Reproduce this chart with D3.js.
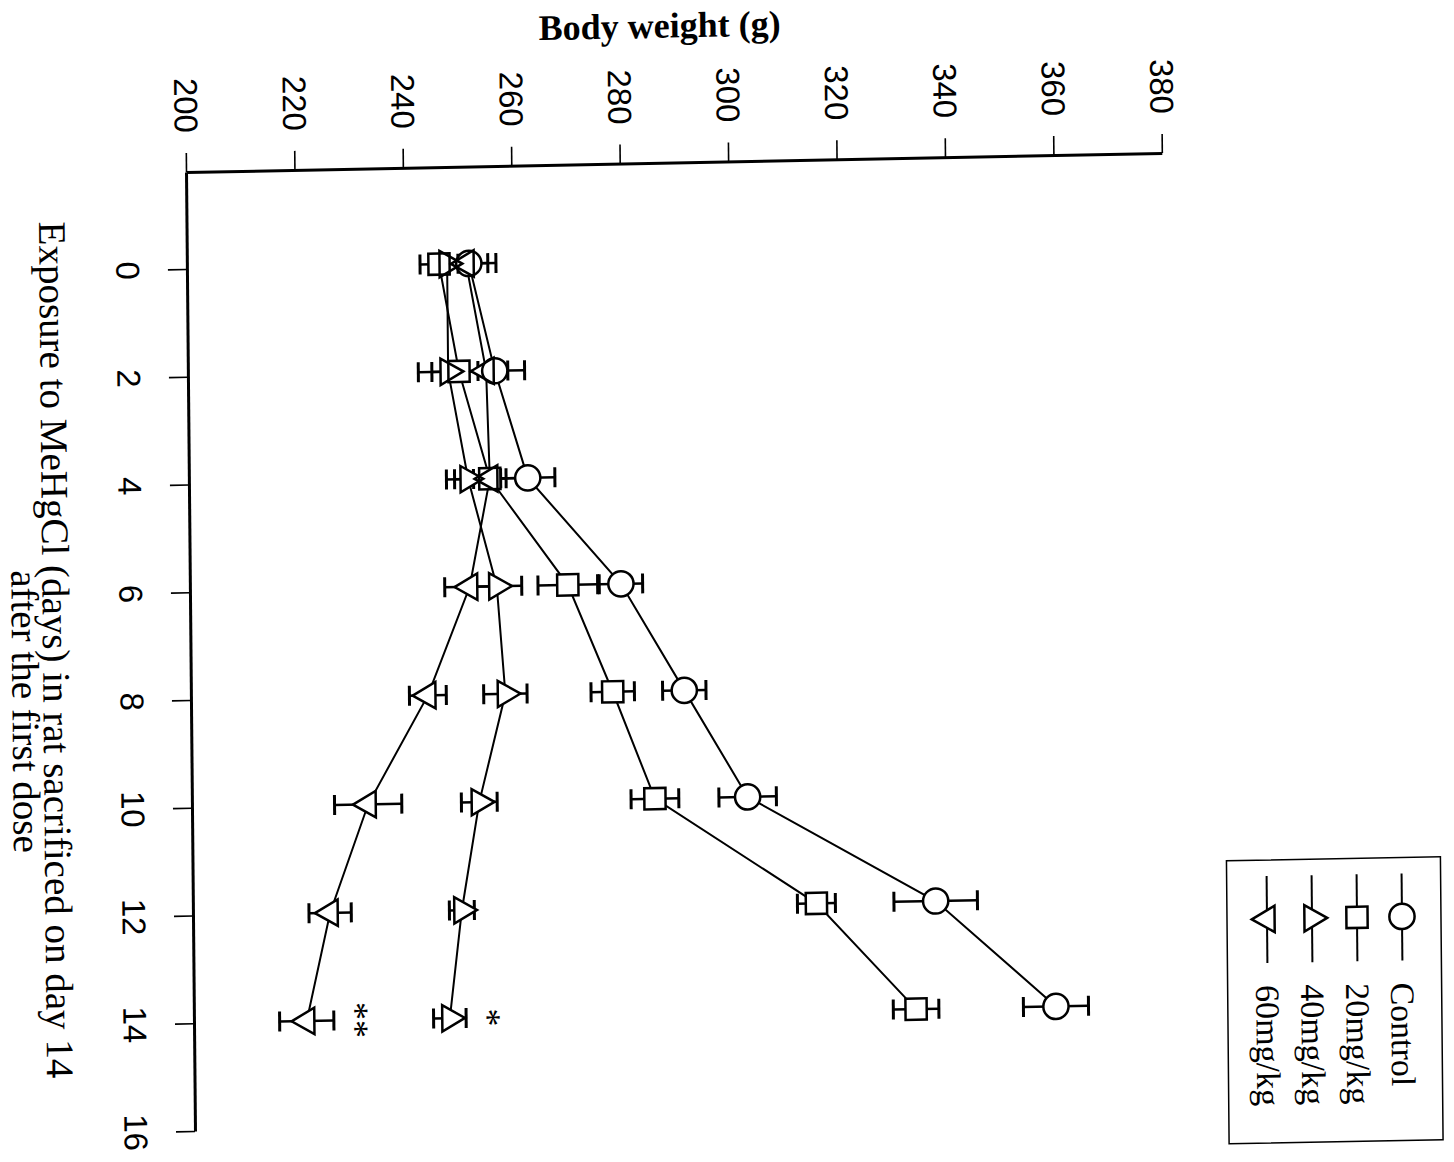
<!DOCTYPE html>
<html>
<head>
<meta charset="utf-8">
<script src="https://cdn.jsdelivr.net/npm/d3@7"></script>
<style>body{margin:0;background:#fff}</style>
</head>
<body>
<svg id="chart" width="1454" height="1162"></svg>
<script>
// days after first dose
const days = [0, 2, 4, 6, 8, 10, 12, 14];
const seriesNames = ["Control", "20mg/kg", "40mg/kg", "60mg/kg"];
const weightTicks = [200, 220, 240, 260, 280, 300, 320, 340, 360, 380];
const dayTicks = [0, 2, 4, 6, 8, 10, 12, 14, 16];

// body weight (g), mean and SE
const controlMean = [252, 256.6, 262.5, 279.5, 291, 302.5, 337, 359];
const controlErr  = [5, 5.5, 5, 4, 4, 5.3, 7.7, 6];
const mg20Mean = [246.5, 250, 255.5, 269.7, 277.8, 285.4, 315, 333.2];
const mg20Err  = [3.5, 5, 6.5, 5.5, 4, 4.4, 3.5, 4.2];
const mg40Mean = [248, 248, 251.5, 256.6, 258, 253, 249.6, 247.2];
const mg40Err  = [2.6, 5.5, 4, 4.6, 4, 3.3, 2.3, 3];
const mg60Mean = [251.5, 255, 255.5, 251.6, 243.7, 232.5, 225.3, 220.8];
const mg60Err  = [4, 4, 3, 4.6, 3.4, 6.2, 3.9, 5];
const sigMarks = ["", "", "*", "**"];

const svg = d3.select("#chart");
svg.append("rect").attr("width", 1454).attr("height", 1162).attr("fill", "#fff");

// the whole figure is turned a quarter turn and the scan is a bit skewed
const frame = svg.append("g")
    .attr("transform", "matrix(0.99981,-0.01947,0.00938,0.99996,186,172)");

const w = d3.scaleLinear().domain([200, 380]).range([0, 976]);
const d = d3.scaleLinear().domain([-1.8, 16]).range([0, 959]);

// weight axis (top)
const topAxis = frame.append("g")
    .call(d3.axisTop(w).tickValues(weightTicks).tickSize(19).tickSizeOuter(0));
topAxis.attr("font-family", "'Liberation Sans', Arial, sans-serif").attr("font-size", 33);
topAxis.select(".domain").attr("stroke-width", 3);
topAxis.selectAll(".tick line").attr("stroke-width", 1.6);
topAxis.selectAll(".tick text")
    .attr("x", 0).attr("y", 0).attr("dy", null)
    .attr("transform", "translate(0,-39) rotate(90)")
    .attr("text-anchor", "end")
    .attr("dominant-baseline", "central");

// days axis (left)
const leftAxis = frame.append("g")
    .call(d3.axisLeft(d).tickValues(dayTicks).tickSize(19).tickSizeOuter(0));
leftAxis.attr("font-family", "'Liberation Sans', Arial, sans-serif").attr("font-size", 33);
leftAxis.select(".domain").attr("stroke-width", 3);
leftAxis.selectAll(".tick line").attr("stroke-width", 1.6);
leftAxis.selectAll(".tick text")
    .attr("x", 0).attr("y", 0).attr("dy", null)
    .attr("transform", "translate(-59,0) rotate(90)")
    .attr("text-anchor", "middle")
    .attr("dominant-baseline", "central");

// titles
frame.append("text")
    .attr("x", 475).attr("y", -137)
    .attr("text-anchor", "middle").attr("dominant-baseline", "central")
    .attr("font-family", "'Liberation Serif', 'Times New Roman', serif")
    .attr("font-weight", "bold").attr("font-size", 36)
    .text("Body weight (g)");

const xTitle = [
    {text: "Exposure to MeHgCl (days) in rat sacrificed on day 14", u: -134, v: 47},
    {text: "after the first dose", u: -165, v: 395}
];
frame.selectAll(".xtitle").data(xTitle).join("text")
    .attr("class", "xtitle")
    .attr("transform", t => "translate(" + t.u + "," + t.v + ") rotate(90)")
    .attr("dominant-baseline", "central")
    .attr("font-family", "'Liberation Serif', 'Times New Roman', serif")
    .attr("font-size", 39)
    .text(t => t.text);

const series = [
    {name: seriesNames[0], mean: controlMean, err: controlErr, sym: "circle"},
    {name: seriesNames[1], mean: mg20Mean, err: mg20Err, sym: "square"},
    {name: seriesNames[2], mean: mg40Mean, err: mg40Err, sym: "up"},
    {name: seriesNames[3], mean: mg60Mean, err: mg60Err, sym: "down"}
];
series.forEach((s, k) => {
    s.pts = days.map((day, i) => ({day: day, m: s.mean[i], e: s.err[i]}));
    s.sig = sigMarks[k];
});

function markerPath(kind) {
    if (kind === "circle") return d3.symbol(d3.symbolCircle, 500)();
    if (kind === "square") return d3.symbol(d3.symbolSquare, 450)();
    return d3.symbol(d3.symbolTriangle, 300)();
}
function markerRot(kind) {
    return kind === "up" ? 90 : kind === "down" ? -90 : 0;
}

const line = d3.line().x(p => w(p.m)).y(p => d(p.day));
frame.selectAll(".series").data(series).join("path")
    .attr("class", "series")
    .attr("d", s => line(s.pts))
    .attr("fill", "none").attr("stroke", "#000").attr("stroke-width", 2);

// error bars
const bars = frame.append("g").attr("stroke", "#000");
series.forEach(s => {
    const g = bars.append("g");
    g.selectAll(".eb").data(s.pts).join("line").attr("class", "eb")
        .attr("x1", p => w(p.m - p.e)).attr("x2", p => w(p.m + p.e))
        .attr("y1", p => d(p.day)).attr("y2", p => d(p.day))
        .attr("stroke-width", 2.5);
    g.selectAll(".capL").data(s.pts).join("line").attr("class", "capL")
        .attr("x1", p => w(p.m - p.e)).attr("x2", p => w(p.m - p.e))
        .attr("y1", p => d(p.day) - 10).attr("y2", p => d(p.day) + 10)
        .attr("stroke-width", 3);
    g.selectAll(".capR").data(s.pts).join("line").attr("class", "capR")
        .attr("x1", p => w(p.m + p.e)).attr("x2", p => w(p.m + p.e))
        .attr("y1", p => d(p.day) - 10).attr("y2", p => d(p.day) + 10)
        .attr("stroke-width", 3);
});

// markers: white bodies first, outlines on top so overlapping shapes stay visible
const fills = frame.append("g");
const outlines = frame.append("g");
series.forEach(s => {
    fills.selectAll(null).data(s.pts).join("path")
        .attr("d", markerPath(s.sym))
        .attr("transform", p => "translate(" + w(p.m) + "," + d(p.day) + ") rotate(" + markerRot(s.sym) + ")")
        .attr("fill", "#fff");
    outlines.selectAll(null).data(s.pts).join("path")
        .attr("d", markerPath(s.sym))
        .attr("transform", p => "translate(" + w(p.m) + "," + d(p.day) + ") rotate(" + markerRot(s.sym) + ")")
        .attr("fill", "none").attr("stroke", "#000").attr("stroke-width", 2.5);
});

// significance marks at the last day
frame.selectAll(".sig").data(series.filter(s => s.sig)).join("text")
    .attr("class", "sig")
    .attr("transform", s => {
        const p = s.pts[s.pts.length - 1];
        return "translate(" + (w(p.m + p.e) + 22) + "," + d(p.day) + ") rotate(90)";
    })
    .attr("text-anchor", "middle").attr("dominant-baseline", "central")
    .attr("font-family", "'Liberation Serif', 'Times New Roman', serif")
    .attr("font-size", 36)
    .text(s => s.sig);

// legend
const legend = frame.append("g");
legend.append("rect")
    .attr("x", 1034).attr("y", 709).attr("width", 214).attr("height", 283)
    .attr("fill", "none").attr("stroke", "#000").attr("stroke-width", 1.5);
const items = legend.selectAll(".item").data(series).join("g")
    .attr("class", "item")
    .attr("transform", (s, i) => "translate(" + (1209 - 45 * i) + ",0)");
items.append("line").attr("x1", 0).attr("x2", 0).attr("y1", 725).attr("y2", 812)
    .attr("stroke", "#000").attr("stroke-width", 2);
items.append("path")
    .attr("d", s => markerPath(s.sym))
    .attr("transform", s => "translate(0,768) rotate(" + markerRot(s.sym) + ")")
    .attr("fill", "#fff").attr("stroke", "#000").attr("stroke-width", 2.5);
items.append("text")
    .attr("transform", "translate(0,834) rotate(90)")
    .attr("dominant-baseline", "central")
    .attr("font-family", "'Liberation Serif', 'Times New Roman', serif")
    .attr("font-size", 34)
    .text(s => s.name);
</script>
</body>
</html>
